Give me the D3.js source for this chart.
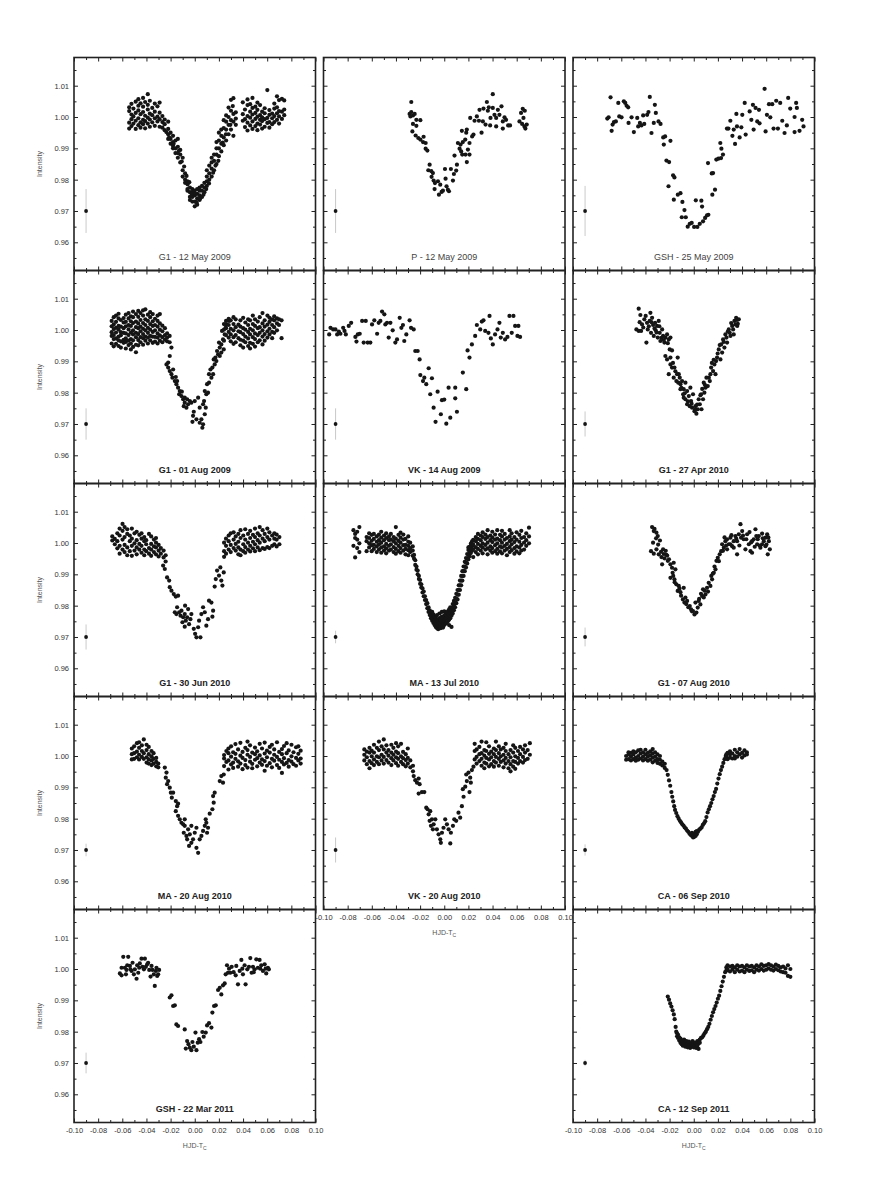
<!DOCTYPE html>
<html>
<head>
<meta charset="utf-8">
<script src="https://cdn.jsdelivr.net/npm/d3@7"></script>
<style>
body { margin:0; background:#fff; }
svg { display:block; font-family:"Liberation Sans", Arial, sans-serif; }
</style>
</head>
<body>
<div id="chart"></div>
<script>
// every row is [HJD-Tc, intensity, intensity, ...] (points read at about that time)
var g1May12_2009 = [
 [-0.0543,0.9963,0.9982,1.0019,1.0031],[-0.0524,0.9971,0.9993,1.0008,1.0042],
 [-0.0508,0.9979,1.0002,1.0027],[-0.0489,0.9962,0.9988,1.0013,1.0049],
 [-0.0467,0.9974,0.9996,1.0021,1.0036,1.0057],[-0.0449,0.9966,0.9983,1.0009,1.0044],
 [-0.0428,0.9977,0.9991,1.0016,1.0033,1.0061],[-0.0411,0.9964,0.9987,1.0004,1.0048],
 [-0.0389,0.9979,0.9998,1.0024,1.0039,1.0073],[-0.0372,0.9969,0.9992,1.0011,1.0052],
 [-0.0352,0.9983,1.0006,1.0029],[-0.0331,0.9972,0.9996,1.0017,1.0043],
 [-0.0309,0.9986,1.0001,1.0034],[-0.0291,0.9969,0.9993,1.0014,1.0046],
 [-0.0268,0.9966,0.9984,1.0003],[-0.0249,0.9958,0.9977,0.9992],
 [-0.022,0.993,0.9945,0.9962,0.9985],[-0.020,0.9915,0.993,0.995],
 [-0.018,0.99,0.992,0.994,0.9908],[-0.016,0.9885,0.99,0.9925],
 [-0.014,0.987,0.9885,0.9905,0.993],[-0.012,0.9855,0.988,0.9895],
 [-0.010,0.983,0.981,0.987],[-0.008,0.979,0.982,0.98],
 [-0.006,0.977,0.9785,0.9795,0.9765],[-0.004,0.9745,0.976,0.9775,0.9735],
 [-0.002,0.973,0.9745,0.976,0.977],[0.000,0.9715,0.973,0.975,0.9765,0.9755],
 [0.002,0.972,0.974,0.9755,0.977],[0.004,0.9735,0.975,0.9765,0.9775],
 [0.006,0.9745,0.9765,0.978],[0.008,0.976,0.9775,0.979],
 [0.010,0.978,0.9795,0.981,0.983],[0.012,0.98,0.982,0.9845],
 [0.014,0.981,0.9835,0.9855,0.987],[0.016,0.983,0.986,0.988],
 [0.018,0.985,0.988,0.99,0.992],[0.020,0.9875,0.99,0.9925,0.995],
 [0.022,0.989,0.9915,0.994,0.996],[0.024,0.991,0.9935,0.9965,0.999],
 [0.026,0.9925,0.996,0.9985,1.0005],[0.028,0.9945,0.9975,1.0,1.003],
 [0.030,0.996,0.999,1.002,1.0055],[0.032,0.994,0.9985,1.001,1.006],
 [0.034,0.9975,0.9995,1.0015],
 [-0.0235,0.9952],[-0.0212,0.9935],[-0.0175,0.9915],[-0.0132,0.9892],[-0.0108,0.9858],
 [-0.0088,0.9842],[-0.0068,0.9812],[-0.0045,0.9792],[-0.0025,0.9755],[0.0015,0.9728],
 [0.0045,0.974],[0.0072,0.9752],[0.0095,0.977],[0.0118,0.9788],[0.0152,0.9822],
 [0.0172,0.9845],[0.0195,0.986],[0.0232,0.9918],[0.0258,0.9945],[0.0295,0.9975],[0.0315,1.0035],
 [0.0398,0.9988,1.0009,1.0047],[0.0416,0.9968,0.9993,1.0024],
 [0.0437,0.9957,0.9982,1.0003,1.0038,1.0056],[0.0459,0.9973,0.9998,1.0017,1.0041],
 [0.0478,0.9962,0.9986,1.0008,1.0029,1.0061],[0.0502,0.9971,0.9994,1.0013,1.0033],
 [0.0519,0.9958,0.9979,1.0001,1.0023,1.0046],[0.0541,0.9976,0.9991,1.0006,1.0038],
 [0.0558,0.9963,0.9987,0.9999,1.0017],[0.0579,0.9969,0.9993,1.0012,1.0028],
 [0.0601,0.9981,0.9997,1.0086],[0.0618,0.9966,0.9984,1.0007,1.0022],
 [0.0641,0.9977,0.9996,1.0011],[0.0659,0.9984,1.0003,1.0027,1.0043],
 [0.0681,0.9991,1.0012,1.0031,1.0066],[0.0698,0.9979,1.0002,1.0019,1.0054],
 [0.0722,0.9994,1.0017,1.0058],[0.0741,1.0006,1.0024,1.0053]
];
var pMay12_2009 = [
 [-0.0273,1.0048],[-0.0287,1.001],[-0.0273,1.0016],[-0.0259,1.0005],[-0.028,1.0002],
 [-0.0245,1.001],[-0.0231,0.9991],[-0.0198,0.999],[-0.0259,0.9978],[-0.0231,0.9972],
 [-0.0264,0.9954],[-0.0237,0.9941],[-0.0215,0.9933],[-0.0198,0.9928],[-0.0171,0.9937],
 [-0.0176,0.992],[-0.0154,0.9917],[-0.0154,0.9899],[-0.014,0.9893],[-0.0121,0.9848],
 [-0.0132,0.983],[-0.0107,0.9827],[-0.0094,0.9821],[-0.0105,0.9809],[-0.0088,0.9797],
 [-0.0077,0.9789],[-0.008,0.977],[-0.0052,0.9795],[-0.0044,0.9752],[-0.0033,0.9784],
 [-0.0022,0.9761],[-0.0011,0.9765],[0.0006,0.9834],[0.0011,0.9803],[0.0019,0.9779],
 [0.003,0.9768],[0.0039,0.9763],[0.0055,0.9834],[0.0072,0.9797],[0.008,0.9818],
 [0.0099,0.9829],[0.0105,0.9848],[0.0085,0.9877],[0.0127,0.9899],[0.0135,0.9912],
 [0.014,0.989],[0.0149,0.988],[0.0154,0.992],[0.0174,0.9928],[0.0187,0.9856],
 [0.0209,0.988],[0.0209,0.9917],[0.0196,0.9896],[0.0146,0.9956],[0.0182,0.995],
 [0.0231,0.9938],[0.0242,0.9944],[0.0215,0.9997],[0.0251,0.9988],[0.027,1.0002],
 [0.0287,0.9988],[0.0309,0.995],[0.0292,1.0023],[0.032,0.9986],[0.0325,1.0027],
 [0.0342,0.9976],[0.0353,1.0048],[0.0361,1.002],[0.0369,1.0031],[0.038,0.9973],
 [0.0402,1.0073],[0.0402,1.0029],[0.0416,1.0007],[0.043,0.9997],[0.0444,1.0023],
 [0.0457,1.0007],[0.0474,1.0034],[0.0485,0.9963],[0.0499,0.9999],[0.0512,0.9991],
 [0.0529,0.9973],[0.0545,0.9973],[0.0485,0.9986],[0.0623,0.9986],[0.0636,1.0013],
 [0.065,1.0026],[0.0667,1.002],[0.0656,0.9997],[0.0645,0.9978],[0.0664,0.997],
 [0.0672,0.9963],[0.0683,0.9976],[0.043,0.997],[0.0383,0.9997],[0.0187,0.996],
 [0.0176,0.988],[0.0113,0.9917]
];
var gshMay25_2009 = [
 [-0.0716,0.9995],[-0.0705,0.9999],[-0.0689,1.0063],[-0.0672,0.9976],[-0.068,0.9956],
 [-0.0661,0.9984],[-0.0645,0.9986],[-0.0625,1.0045],[-0.0617,1.0002],[-0.0598,0.9999],
 [-0.0579,1.005],[-0.0567,1.0045],[-0.0556,1.0036],[-0.0543,1.0031],[-0.054,0.9981],
 [-0.0515,0.9999],[-0.0496,0.9952],[-0.0468,0.9997],[-0.046,0.997],[-0.0446,0.9981],
 [-0.0433,0.9973],[-0.0419,1.0005],[-0.041,0.9978],[-0.0386,1.0007],[-0.0375,1.0016],
 [-0.0364,1.0064],[-0.035,0.9949],[-0.0331,0.9981],[-0.0322,1.0039],[-0.0314,1.0013],
 [-0.0292,0.9986],[-0.0275,0.9978],[-0.0253,0.9935],[-0.0237,0.9938],[-0.0248,0.9912],
 [-0.0193,0.9924],[-0.0226,0.9861],[-0.0204,0.9856],[-0.0171,0.9814],[-0.016,0.9807],
 [-0.0209,0.9779],[-0.0165,0.9736],[-0.0132,0.9752],[-0.011,0.9757],[-0.0094,0.9729],
 [-0.0099,0.968],[-0.0077,0.9703],[-0.0066,0.968],[-0.005,0.965],[-0.0033,0.9659],
 [-0.0017,0.9662],[0.0003,0.9649],[0.0017,0.9734],[0.003,0.9649],[0.005,0.9659],
 [0.0063,0.9733],[0.0069,0.9714],[0.0077,0.9667],[0.0094,0.9678],[0.011,0.9686],
 [0.0121,0.9688],[0.0154,0.9752],[0.0176,0.9768],[0.0149,0.982],[0.016,0.9821],
 [0.0118,0.9853],[0.0187,0.9864],[0.0204,0.9867],[0.0226,0.9869],[0.0242,0.988],
 [0.022,0.9917],[0.0229,0.9899],[0.0275,0.9963],[0.0287,0.9963],[0.0303,0.9988],
 [0.032,0.994],[0.0331,0.996],[0.0342,0.9914],[0.0353,1.001],[0.0358,0.997],
 [0.038,0.9935],[0.0394,0.9967],[0.0402,1.0007],[0.0422,1.0045],[0.043,0.9944],
 [0.0463,1.0018],[0.0477,0.9991],[0.049,1.0039],[0.0496,0.996],[0.0512,1.0029],
 [0.0526,0.9986],[0.054,1.0023],[0.0545,0.998],[0.0587,1.009],[0.0595,0.9954],
 [0.0606,1.0007],[0.0623,1.0041],[0.0634,0.9999],[0.065,1.0041],[0.0661,0.9963],
 [0.0683,1.0052],[0.0697,0.9963],[0.0716,1.0045],[0.0733,0.9988],[0.0752,0.9949],
 [0.0771,0.9973],[0.0782,1.0061],[0.0799,1.0027],[0.0835,1.0],[0.0848,1.0045],
 [0.0835,0.9952],[0.0854,1.0029],[0.0876,0.9956],[0.0898,0.9991],[0.0909,0.997]
];
var g1Aug01_2009 = [
 [-0.0688,0.9957,0.9981,0.9993,1.0012,1.0029],[-0.0671,0.9948,0.9971,0.9984,1.0003,1.0018,1.0041],
 [-0.0652,0.9956,0.9973,0.9992,1.0007,1.0026,1.0046],[-0.0631,0.9949,0.9967,0.9979,1.0001,1.0013,1.0037,1.0052],
 [-0.0612,0.9944,0.9964,0.9983,0.9993,1.0011,1.0032],[-0.0589,0.9959,0.9969,0.9991,1.0006,1.0024,1.0038],
 [-0.0571,0.9941,0.9962,0.9973,0.9989,1.0012,1.0026,1.0049],[-0.0548,0.9952,0.9966,0.9984,1.0002,1.0016,1.0037,1.0054],
 [-0.0529,0.9938,0.9957,0.9971,0.9992,1.0013,1.0028,1.0044],[-0.0511,0.9946,0.9967,0.9986,0.9999,1.0022,1.0041,1.0059],
 [-0.0487,0.9929,0.9953,0.9977,0.9991,1.0009,1.0027,1.0051],[-0.0468,0.9951,0.9968,0.9987,1.0006,1.0021,1.0042,1.0061],
 [-0.0449,0.9961,0.9977,0.9996,1.0011,1.0032,1.0054],[-0.0428,0.9953,0.9974,0.9987,1.0004,1.0022,1.0046,1.0063],
 [-0.0409,0.9966,0.9979,0.9999,1.0016,1.0034,1.0066],[-0.0388,0.9957,0.9976,0.9991,1.0007,1.0029,1.0049],
 [-0.0369,0.9967,0.9981,1.0001,1.0019,1.0041,1.0057],[-0.0348,0.9959,0.9979,0.9994,1.0013,1.0028,1.0051],
 [-0.0329,0.9963,0.9978,0.9999,1.0016,1.0036],[-0.0308,0.9957,0.9976,0.9989,1.0011,1.0029,1.0046],
 [-0.0289,0.9966,0.9983,1.0001,1.0021,1.0051],[-0.0268,0.9961,0.9977,0.9996,1.0014],
 [-0.0247,0.9969,0.9984,1.0006],[-0.0229,0.9976,0.9989,0.9964],[-0.0208,0.9961,0.9981],
 [-0.0193,0.9944],[-0.0207,0.9917],[-0.0234,0.989],[-0.022,0.988],[-0.0207,0.9869],
 [-0.0193,0.9859],[-0.0185,0.9848],[-0.0165,0.9837],[-0.0152,0.9827],[-0.0138,0.9816],
 [-0.0124,0.9805],[-0.0129,0.9795],[-0.011,0.9789],[-0.0096,0.9779],[-0.0083,0.9768],
 [-0.0091,0.9757],[-0.0069,0.9752],[-0.0055,0.9763],[-0.0041,0.9773],[-0.0014,0.9726],
 [-0.0019,0.9707],[-0.0008,0.9739],[0.0014,0.9715],[0.0041,0.9704],[0.0063,0.9688],
 [0.0069,0.9699],[0.0055,0.9715],[0.0083,0.9731],[0.0091,0.9752],[0.0069,0.9763],
 [0.0077,0.9773],[0.0096,0.9795],[0.0083,0.9805],[0.011,0.98],[0.0102,0.9827],
 [0.0118,0.9832],[0.0138,0.9848],[0.0152,0.9859],[0.0146,0.988],[0.0165,0.989],
 [0.0179,0.9901],[0.0171,0.9912],[0.0193,0.9922],[0.0185,0.9933],[0.0207,0.9944],
 [0.022,0.9954],[0.0201,0.996],[0.0234,0.997],[0.0248,0.9986],[0.0226,0.9997],
 [0.0256,1.0007],[0.0262,1.0018],[0.0284,1.0029],
 [-0.022,0.9896],[-0.0179,0.9874],[-0.0157,0.985],[-0.0146,0.9837],[-0.0107,0.9803],
 [-0.0083,0.9784],[-0.0063,0.9779],[-0.0028,0.9768],[0.0,0.9773],[0.0028,0.9784],
 [0.0041,0.9752],[0.0118,0.9859],[0.013,0.9874],[0.0157,0.9906],[0.0207,0.9917],
 [0.022,0.9928],[0.024,0.9938],
 [0.0242,1.0001,1.0019,0.9966],[0.0259,0.9984,1.0006,1.0029],[0.0281,0.9976,0.9994,1.0016,1.0036],
 [0.0298,0.9964,0.9986,1.0004,1.0031],[0.0321,0.9956,0.9977,0.9999,1.0019,1.0041],
 [0.0339,0.9961,0.9984,1.0009,1.0034],[0.0362,0.9974,0.9996,1.0017],
 [0.0378,0.9951,0.9969,0.9993,1.0011,1.0031],[0.0401,0.9944,0.9966,0.9987,1.0006,1.0039],
 [0.0419,0.9961,0.9979,1.0001,1.0024],[0.0442,0.9949,0.9973,0.9994,1.0016,1.0034],
 [0.0458,0.9941,0.9959,0.9986,1.0004,1.0031],[0.0481,0.9956,0.9977,0.9999,1.0019,1.0046],
 [0.0499,0.9947,0.9971,0.9989,1.0013,1.0034],[0.0522,0.9961,0.9984,1.0006,1.0027],
 [0.0538,0.9967,0.9991,1.0009,1.0041],[0.0561,0.9954,0.9979,0.9999,1.0021,1.0054],
 [0.0579,0.9966,0.9987,1.0011,1.0031],[0.0602,0.9976,0.9996,1.0017,1.0046],
 [0.0619,0.9986,1.0004,1.0026,1.0039],[0.0641,0.9974,0.9994,1.0016,1.0034],
 [0.0658,0.9991,1.0009,1.0031,1.0044],[0.0681,0.9999,1.0021,1.0037],
 [0.0698,1.0016,1.0034],[0.0719,0.9974,1.0031]
];
var vkAug14_2009 = [
 [-0.0953,0.9986],[-0.0942,1.0007],[-0.092,1.0002],[-0.0901,1.0002],[-0.0887,0.9986],
 [-0.0873,0.9995],[-0.086,0.9988],[-0.0837,1.0007],[-0.0826,0.9997],[-0.0815,0.9986],
 [-0.0791,1.0013],[-0.0771,1.0023],[-0.0736,0.9978],[-0.0727,0.9963],[-0.0716,0.9986],
 [-0.07,0.9988],[-0.068,1.0029],[-0.0667,0.996],[-0.065,1.0029],[-0.0634,0.996],
 [-0.0612,0.996],[-0.0598,1.0018],[-0.0579,1.0031],[-0.0556,0.9988],[-0.0543,1.0023],
 [-0.0529,1.0029],[-0.0515,1.0059],[-0.0496,1.005],[-0.0488,1.0018],[-0.0474,1.0023],
 [-0.046,0.9976],[-0.0446,1.0023],[-0.0427,0.9999],[-0.0405,0.996],[-0.0391,0.997],
 [-0.0369,1.0039],[-0.0355,1.0007],[-0.0342,1.0016],[-0.0331,0.9965],[-0.0314,0.9986],
 [-0.0287,1.0031],[-0.0275,1.0007],[-0.0253,1.0002],[-0.024,0.9933],[-0.022,0.9933],
 [-0.0204,0.9906],[-0.0198,0.9856],[-0.0165,0.9848],[-0.0176,0.9837],[-0.0129,0.9878],
 [-0.0102,0.9846],[-0.0149,0.9827],[-0.0116,0.9795],[-0.0055,0.9803],[-0.0088,0.9752],
 [-0.0028,0.9731],[-0.0019,0.9776],[0.0,0.9778],[-0.0072,0.9707],[0.0017,0.9701],
 [0.0036,0.9816],[0.005,0.972],[0.0091,0.9816],[0.0091,0.9782],[0.0105,0.9739],
 [0.0154,0.9864],[0.0182,0.9811],[0.0193,0.9935],[0.0209,0.9912],[0.0229,0.9954],
 [0.0256,0.9981],[0.027,1.0016],[0.0298,1.0002],[0.0311,1.0027],[0.0325,1.0031],
 [0.0339,0.9997],[0.0366,0.9991],[0.0375,1.0045],[0.0386,0.9973],[0.0402,0.9954],
 [0.0421,0.9986],[0.0441,1.0002],[0.0457,1.0023],[0.0468,0.9976],[0.0485,0.9991],
 [0.0504,0.997],[0.0523,0.9978],[0.054,1.0045],[0.0559,0.9991],[0.0573,1.0045],
 [0.0587,1.0013],[0.0606,0.9981],[0.0614,1.0013],[0.0628,0.9978]
];
var g1Apr27_2010 = [
 [-0.0456,1.0068],[-0.0442,1.0048],[-0.0475,1.0002],[-0.0456,0.9997],[-0.0436,0.9997],
 [-0.0428,1.0018],[-0.0409,1.0034],[-0.0392,0.996],[-0.0387,1.0023],[-0.0381,1.0002],
 [-0.0365,1.0029],[-0.0359,1.0055],[-0.0354,0.9991],[-0.0345,1.0039],[-0.0337,1.0016],
 [-0.0331,0.9981],[-0.032,1.0023],[-0.0315,0.9999],[-0.0304,1.0013],[-0.0298,0.9976],
 [-0.029,1.0029],[-0.0282,0.9991],[-0.0276,0.9965],[-0.0262,1.0002],[-0.0254,0.9981],
 [-0.0243,0.996],[-0.0235,0.9976],[-0.0221,0.9986],[-0.0207,0.997],[-0.0193,0.9976],
 [-0.0199,0.9938],[-0.018,0.9935],[-0.0235,0.9917],[-0.0221,0.9906],[-0.0193,0.989],
 [-0.0207,0.9859],[-0.018,0.988],[-0.0166,0.9848],[-0.0144,0.9837],[-0.0133,0.9912],
 [-0.0124,0.9859],[-0.011,0.9827],[-0.0116,0.9848],[-0.0097,0.9837],[-0.0083,0.9811],
 [-0.0069,0.9832],[-0.0088,0.9795],[-0.0069,0.9779],[-0.0055,0.9805],[-0.0041,0.9789],
 [-0.0028,0.9816],[-0.0022,0.9773],[-0.0006,0.9795],[-0.0014,0.9752],[0.0006,0.9741],
 [0.0022,0.9733],[0.0033,0.9747],[0.005,0.9763],[0.0064,0.9747],[0.0077,0.9779],
 [0.0088,0.98],[0.0083,0.9832],[0.0105,0.9848],[0.0116,0.9821],[0.0133,0.9837],
 [0.0144,0.988],[0.016,0.9869],[0.0171,0.989],[0.018,0.9859],[0.0193,0.9912],
 [0.0207,0.9938],[0.0221,0.9906],[0.0227,0.9954],[0.0243,0.997],[0.0254,0.9944],
 [0.0262,0.9986],[0.0276,0.996],[0.029,1.0002],[0.0304,0.9981],[0.0318,1.0013],
 [0.0331,0.9986],[0.0337,1.0029],[0.0351,1.0039],[0.0365,1.002],[0.0373,1.0034],
 [-0.0193,0.9912],[-0.016,0.988],[-0.0138,0.9859],[-0.011,0.9811],[-0.0083,0.9784],
 [-0.0055,0.9763],[-0.0033,0.9757],[0.0014,0.9757],[0.0041,0.9779],[0.0061,0.9795],
 [0.0097,0.9816],[0.0138,0.9859],[0.0185,0.9901],[0.0235,0.9928],[0.0271,0.9976],
 [0.0298,0.9991],[0.0326,1.0002],[0.036,1.0013],
 [-0.0448,1.0025],[-0.0418,1.0008],[-0.0398,1.0045],[-0.0372,1.0012],[-0.035,1.0025],
 [-0.0325,1.0005],[-0.0308,0.9992],[-0.0285,1.0012],[-0.0268,0.9975],[-0.0248,0.9968],
 [-0.0215,0.9958],[-0.0172,0.9895],[-0.0152,0.9868],[-0.0128,0.9832],[-0.0102,0.9815],
 [-0.0075,0.9798],[-0.0048,0.9772],[-0.0018,0.9765],[0.001,0.9745],[0.0028,0.9762],
 [0.0055,0.9792],[0.007,0.9812],[0.0092,0.9825],[0.0125,0.9848],[0.015,0.9895],
 [0.0165,0.9905],[0.0198,0.9925],[0.0215,0.9952],[0.0248,0.9962],[0.0282,0.9995],
 [0.031,1.0022],[0.0345,1.0018],[0.0358,1.0032]
];
var g1Jun30_2010 = [
 [-0.0683,1.0008,1.0021],[-0.0662,0.9996,1.0013],[-0.0641,0.9983,1.0006,1.0031],
 [-0.0622,0.9966,0.9991,1.0024,1.0046],[-0.0598,0.9979,1.0011,1.0039,1.0061],
 [-0.0581,0.9971,0.9994,1.0019,1.0051],[-0.0559,0.9961,0.9986,1.0029,1.0044],
 [-0.0538,0.9974,1.0006,1.0024],[-0.0521,0.9959,0.9991,1.0014,1.0046],
 [-0.0499,0.9976,0.9999,1.0031],[-0.0481,0.9964,0.9986,1.0009,1.0036],
 [-0.0459,0.9979,0.9997,1.0026],[-0.0441,0.9969,0.9991,1.0014,1.0031],
 [-0.0418,0.9961,0.9979,1.0006,1.0019],[-0.0402,0.9974,0.9996,1.0009],
 [-0.0379,0.9966,0.9984,1.0029],[-0.0361,0.9959,0.9979,0.9997,1.0021],
 [-0.0338,0.9971,0.9989,1.0011],[-0.0321,0.9964,0.9986,1.0001,1.0016],
 [-0.0299,0.9957,0.9976,0.9994],[-0.0281,0.9966,0.9984],[-0.0258,0.9954,0.9976],
 [-0.0241,0.9941,0.9961],
 [-0.0262,0.9928],[-0.0248,0.9917],[-0.0229,0.989],[-0.0212,0.988],[-0.0207,0.9859],
 [-0.0193,0.9848],[-0.0174,0.9837],[-0.0157,0.9829],[-0.0138,0.9832],[-0.0165,0.9779],
 [-0.0152,0.9773],[-0.0129,0.9779],[-0.011,0.9784],[-0.0118,0.9768],[-0.0096,0.9763],
 [-0.0083,0.9773],[-0.0102,0.9747],[-0.0074,0.9752],[-0.0063,0.9763],[-0.0055,0.9789],
 [-0.0083,0.9733],[-0.0047,0.9741],[-0.0036,0.9757],[-0.0028,0.9773],[-0.0008,0.9726],
 [0.0003,0.971],[0.0014,0.9699],[0.0028,0.9731],[0.0036,0.9752],[0.0047,0.9699],
 [0.0055,0.9773],[0.0069,0.9795],[0.0083,0.9779],[0.0096,0.9736],[0.011,0.9757],
 [0.0118,0.9816],[0.0138,0.981],[0.0152,0.9784],[0.0146,0.9765],[0.0165,0.9861],
 [0.0174,0.9885],[0.0185,0.9912],[0.0201,0.9896],[0.0212,0.9922],[0.022,0.988],
 [0.0229,0.9864],[0.024,0.9906],[-0.008,0.98],[-0.0146,0.9795],
 [0.0243,0.9956,0.9974,1.0001],[0.0259,0.9966,0.9991,1.0014],[0.0281,0.9979,1.0006,1.0024],
 [0.0298,0.9971,0.9994,1.0031],[0.0322,0.9984,1.0011,1.0034],[0.0339,0.9976,0.9997,1.0021],
 [0.0361,0.9964,0.9986,1.0004,1.0029],[0.0379,0.9961,0.9979,1.0016,1.0041],
 [0.0402,0.9974,0.9996,1.0024],[0.0418,0.9969,0.9987,1.0011,1.0044],
 [0.0441,0.9979,1.0001,1.0029],[0.0459,0.9973,0.9991,1.0016,1.0039],
 [0.0482,0.9983,1.0004,1.0026],[0.0499,0.9974,0.9996,1.0019,1.0046],
 [0.0521,0.9986,1.0009,1.0031],[0.0538,0.9977,1.0001,1.0024,1.0051],
 [0.0562,0.9984,1.0014,1.0041],[0.0579,0.9981,1.0006,1.0029],
 [0.0601,0.9987,1.0019,1.0046],[0.0618,0.9984,1.0011,1.0034],
 [0.0641,0.9991,1.0024],[0.0659,0.9996,1.0014,1.0031],
 [0.0678,0.9989,1.0011,1.0027],[0.0701,0.9996,1.0019]
];
var maJul13_2010 = [
 [-0.0752,0.9991,1.0041],[-0.0738,0.9954,1.0016,1.0029],[-0.0721,0.9984,1.0011,1.0036],
 [-0.0703,0.9971,0.9999,1.0051],
 [-0.0643,0.9974,1.0006,1.0019],[-0.0622,0.9986,0.9999,1.0016,1.0031],
 [-0.0601,0.9974,0.9993,1.0007,1.0026],[-0.0583,0.9981,0.9994,1.0013,1.0029],
 [-0.0559,0.9971,0.9989,1.0004,1.0021],[-0.0541,0.9979,0.9996,1.0009,1.0027],
 [-0.0522,0.9969,0.9986,1.0001,1.0017,1.0036],[-0.0499,0.9976,0.9989,1.0009,1.0024],
 [-0.0481,0.9967,0.9983,0.9997,1.0016,1.0031],[-0.0458,0.9976,0.9991,1.0009,1.0021],
 [-0.0442,0.9979,0.9996,1.0011,1.0029],[-0.0419,0.9971,0.9987,1.0006,1.0019],
 [-0.0401,0.9966,0.9981,0.9999,1.0014,1.0051],[-0.0379,0.9974,0.9991,1.0007,1.0026],
 [-0.0362,0.9969,0.9984,1.0001,1.0017,1.0033],[-0.0339,0.9976,0.9993,1.0011,1.0027],
 [-0.0321,0.9964,0.9981,0.9994,1.0013],[-0.0298,0.9961,0.9977,0.9991,1.0004,1.0021],
 [-0.0282,0.9971,0.9984,1.0001],[-0.0261,0.9959,0.9976,0.9989],
 [-0.025,0.995,0.9962],[-0.024,0.993,0.9945],[-0.023,0.9915,0.9925],[-0.022,0.99,0.9912],
 [-0.021,0.9885,0.9895],[-0.020,0.987,0.9882],[-0.019,0.9858,0.9868],[-0.018,0.9842,0.9855],
 [-0.017,0.983,0.9845],[-0.016,0.9818,0.983],[-0.015,0.9805,0.9818],[-0.014,0.9792,0.9808],
 [-0.013,0.978,0.9795],[-0.012,0.977,0.9785],[-0.011,0.976,0.9775],
 [-0.010,0.9752,0.9768,0.978],[-0.009,0.9745,0.976,0.9772],[-0.008,0.9738,0.9752,0.9765],
 [-0.007,0.9732,0.9748,0.9762],[-0.006,0.9728,0.9742,0.9755,0.977],[-0.005,0.9725,0.9738,0.9752],
 [-0.004,0.973,0.9745,0.976,0.9775],[-0.003,0.9728,0.9742,0.9755],[-0.002,0.9735,0.975,0.9765,0.978],
 [-0.001,0.973,0.9745,0.976],[0.000,0.9738,0.9752,0.9768,0.9782],[0.001,0.9742,0.9758,0.9772],
 [0.002,0.9745,0.976,0.9778],[0.003,0.975,0.9765,0.9782],[0.004,0.9738,0.9755,0.9772,0.9788],
 [0.005,0.976,0.9778,0.9795],[0.006,0.9732,0.9768,0.9785],[0.007,0.9775,0.9792,0.9805],
 [0.008,0.9785,0.98,0.9815],[0.009,0.9795,0.981,0.9825],[0.010,0.9808,0.9822,0.9838],
 [0.011,0.982,0.9835,0.985],[0.012,0.9835,0.985,0.9865],[0.013,0.985,0.9865,0.988],
 [0.014,0.9865,0.988,0.9895],[0.015,0.988,0.9895,0.991],[0.016,0.9895,0.991,0.9925],
 [0.017,0.991,0.9925,0.994],[0.018,0.9922,0.9938,0.9952],[0.019,0.9935,0.995,0.9965],
 [0.020,0.9948,0.9962,0.9978,0.9986],[0.021,0.9958,0.9972,0.9988],[0.022,0.9968,0.9982,0.9998],
 [0.023,0.9975,0.999,1.0005],[0.024,0.9955,0.998,0.9995,1.001],
 [0.0261,0.9971,0.9987,1.0006,1.0019],[0.0279,0.9964,0.9981,0.9997,1.0013,1.0029],
 [0.0302,0.9976,0.9991,1.0009,1.0024],[0.0318,0.9967,0.9986,0.9999,1.0019,1.0034],
 [0.0341,0.9979,0.9994,1.0013,1.0027],[0.0359,0.9964,0.9983,1.0001,1.0019,1.0041],
 [0.0382,0.9976,0.9989,1.0009,1.0024],[0.0398,0.9969,0.9984,1.0003,1.0017,1.0036],
 [0.0421,0.9974,0.9993,1.0011,1.0027],[0.0439,0.9966,0.9981,0.9999,1.0014,1.0041],
 [0.0462,0.9973,0.9989,1.0009,1.0026],[0.0478,0.9967,0.9986,1.0001,1.0021,1.0039],
 [0.0501,0.9976,0.9991,1.0011,1.0029],[0.0519,0.9961,0.9981,0.9997,1.0016],
 [0.0542,0.9971,0.9987,1.0006,1.0021,1.0041],[0.0558,0.9977,0.9996,1.0011,1.0031],
 [0.0581,0.9966,0.9984,1.0003,1.0019],[0.0599,0.9973,0.9989,1.0011,1.0034],
 [0.0622,0.9967,0.9986,1.0004,1.0026],[0.0638,0.9976,0.9994,1.0016,1.0039],
 [0.0661,0.9979,1.0001,1.0019],[0.0679,0.9991,1.0009,1.0031],[0.0702,0.9999,1.0021,1.0049]
];
var g1Aug07_2010 = [
 [-0.0345,1.0051],[-0.0331,1.0038],[-0.0309,1.0033],[-0.0298,1.0022],[-0.0337,1.0001],
 [-0.0354,0.9974],[-0.0331,0.9966],[-0.0309,0.998],[-0.029,0.9964],[-0.0271,0.9972],
 [-0.0262,0.9932],[-0.0254,0.998],[-0.0243,0.9951],[-0.0227,0.9962],[-0.0215,0.9943],
 [-0.0193,0.9932],[-0.018,0.9921],[-0.0166,0.9937],[-0.0152,0.9916],[-0.0193,0.9889],
 [-0.016,0.9884],[-0.0144,0.9868],[-0.0124,0.9863],[-0.0133,0.9847],[-0.011,0.9843],
 [-0.0083,0.9857],[-0.0069,0.9826],[-0.0077,0.981],[-0.0055,0.9815],[-0.0033,0.9799],
 [-0.0022,0.9788],[-0.0006,0.9783],[0.0006,0.9772],[0.0022,0.9778],[0.0033,0.9794],
 [0.0014,0.981],[0.0041,0.9815],[0.0055,0.9804],[0.0069,0.9831],[0.0083,0.9826],
 [0.0097,0.9836],[0.0077,0.9852],[0.011,0.9857],[0.0124,0.9873],[0.0138,0.9863],
 [0.0152,0.9884],[0.0166,0.9905],[0.018,0.9916],[0.0188,0.9943],[0.0199,0.9953],
 [0.0215,0.9964],[0.0227,0.9974],[0.0235,0.9996],[0.0249,0.9985],[0.0262,1.0006],
 [0.0276,0.998],[0.029,0.9996],[0.0304,1.0017],[0.0318,0.999],[0.0331,1.0006],
 [0.0345,1.0022],[0.0359,0.9964],[0.0373,1.0028],[0.0387,1.006],[0.0401,1.0038],
 [0.0414,1.0012],[0.0428,0.998],[0.0442,1.0028],[0.0456,0.9996],[0.047,0.9974],
 [0.0483,0.9969],[0.0497,1.0012],[0.0511,1.0044],[0.0525,0.9996],[0.0539,1.0022],
 [0.0552,0.9985],[0.0566,1.003],[0.058,1.0006],[0.0594,0.999],[0.0608,1.0028],
 [0.0622,1.0006],[0.063,0.998],[0.0613,0.9964],
 [0.0276,1.0012],[0.0304,0.9996],[0.0331,0.9985],[0.0359,1.0006],[0.0392,1.0017],
 [0.0483,1.0006],[0.053,1.0012],[0.0566,0.9996],[0.0594,1.0017],
 [-0.0325,1.0045],[-0.0312,1.0015],[-0.0295,0.9995],[-0.028,1.0008],[-0.0268,0.9955],
 [-0.0248,0.9965],[-0.0232,0.9975],[-0.022,0.996],[-0.0205,0.9948],[-0.0175,0.9905],
 [-0.017,0.9895],[-0.0158,0.9875],[-0.0118,0.9855],[-0.0105,0.9832],[-0.009,0.982],
 [-0.0062,0.9805],[-0.0045,0.9795],[-0.0015,0.9782],[0.0045,0.9822],[0.006,0.9838],
 [0.009,0.9848],[0.0118,0.9845],[0.0145,0.9895],[0.0158,0.9902],[0.0172,0.9925],
 [0.0208,0.9942],[0.0242,0.9975],[0.0255,1.0018],[0.0268,0.9992],[0.0312,1.0025],
 [0.0352,1.0014],[0.0378,0.9992],[0.0408,1.0024],[0.0435,1.0012],[0.0462,1.0035],
 [0.0475,1.0002],[0.0505,0.9988],[0.0518,1.0022],[0.0545,0.9992],[0.0572,1.0015],
 [0.0602,0.9995],[0.0618,1.0018]
];
var maAug20_2010 = [
 [-0.0521,0.9989,1.0006,1.0024],[-0.0502,0.9991,1.0009,1.0031],[-0.0479,0.9996,1.0014,1.0041],
 [-0.0461,0.9989,1.0004,1.0026,1.0044],[-0.0438,0.9997,1.0016,1.0034],[-0.0422,0.9991,1.0009,1.0053],
 [-0.0399,0.9979,0.9996,1.0019,1.0036],[-0.0381,0.9976,0.9989,1.0006,1.0029],
 [-0.0358,0.9971,0.9986,0.9999,1.0016],[-0.0341,0.9976,0.9991,1.0009],
 [-0.0319,0.9967,0.9981,0.9994],[-0.0302,0.9964,0.9976],
 [-0.0248,0.9963],[-0.0234,0.9947],[-0.024,0.9931],[-0.022,0.992],[-0.0229,0.991],
 [-0.0207,0.9899],[-0.0198,0.9883],[-0.0179,0.9883],[-0.019,0.9867],[-0.0157,0.9856],
 [-0.0146,0.984],[-0.0138,0.9848],[-0.0157,0.9824],[-0.0138,0.9809],[-0.0124,0.9798],
 [-0.011,0.9787],[-0.0096,0.9782],[-0.0083,0.9777],[-0.0091,0.9755],[-0.0069,0.9745],
 [-0.0055,0.9766],[-0.0041,0.975],[-0.0063,0.9734],[-0.0047,0.9713],[-0.0028,0.9723],
 [-0.0014,0.9734],[0.0,0.9755],[0.0014,0.9771],[0.0028,0.9691],[0.0014,0.9707],
 [0.0041,0.9734],[0.0055,0.9745],[0.0069,0.9761],[0.0083,0.9777],[0.0096,0.9787],
 [0.0091,0.9798],[0.0102,0.9755],[0.011,0.9771],[-0.0083,0.9798],[-0.0028,0.9777],
 [0.0124,0.9816],[0.0146,0.983],[0.0157,0.9851],[0.0152,0.9872],[0.0165,0.9883],
 [0.0207,0.992],[0.022,0.9936],[0.0234,0.9915],[0.024,0.9941],
 [0.0243,0.9968,0.9992,1.0003],[0.0262,0.9981,1.0016],[0.0279,0.9957,0.9986,1.0009,1.0024],
 [0.0301,0.9973,0.9998,1.0031],[0.0318,0.9962,0.9979,1.0012],[0.0337,0.9991,1.0007,1.0038],
 [0.0359,0.9966,0.9983,1.0021],[0.0378,0.9976,1.0001,1.0042],[0.0396,0.9958,0.9994,1.0013],
 [0.0419,0.9971,0.9987,1.0026],[0.0437,0.9963,1.0004,1.0019,1.0046],[0.0458,0.9982,0.9997,1.0034],
 [0.0476,0.9961,0.9975,1.0011],[0.0499,0.9988,1.0006,1.0027],[0.0517,0.9967,0.9993,1.0015],
 [0.0538,0.9979,1.0002,1.0039],[0.0557,0.9972,0.9989,1.0024],[0.0579,0.9953,0.9984,1.0008,1.0043],
 [0.0598,0.9969,0.9996,1.0017],[0.0621,0.9977,1.0011,1.0029],[0.0639,0.9964,0.9991,1.0036],
 [0.0658,0.9985,1.0004,1.0021],[0.0681,0.9971,0.9997,1.0044],[0.0699,0.9962,0.9988,1.0013],
 [0.0722,0.9946,0.9981,1.0006,1.0022],[0.0739,0.9973,0.9993,1.0032],[0.0761,0.9978,1.0009,1.0041],
 [0.0778,0.9966,0.9987,1.0018],[0.0801,0.9982,0.9999,1.0036],[0.0818,0.9974,1.0012],
 [0.0839,0.9969,0.9994,1.0028],[0.0858,0.9986,1.0007,1.0031],[0.0877,0.9976,0.9992,1.0017]
];
var vkAug20_2010 = [
 [-0.0662,0.9986,1.0004,1.0021],[-0.0641,0.9974,0.9996,1.0014],[-0.0619,0.9961,0.9984,1.0011,1.0026],
 [-0.0601,0.9977,0.9999,1.0017],[-0.0582,0.9971,0.9989,1.0011,1.0036],[-0.0558,0.9981,0.9999,1.0026],
 [-0.0541,0.9974,0.9996,1.0019,1.0046],[-0.0519,0.9986,1.0004,1.0031],[-0.0501,0.9976,0.9997,1.0021,1.0053],
 [-0.0479,0.9987,1.0011,1.0034],[-0.0462,0.9979,1.0001,1.0019],[-0.0438,0.9971,0.9993,1.0011,1.0036],
 [-0.0421,0.9986,1.0004,1.0026],[-0.0399,0.9977,0.9996,1.0014,1.0041],[-0.0382,0.9969,0.9991,1.0009,1.0031],
 [-0.0358,0.9981,0.9999,1.0039],[-0.0341,0.9974,0.9993,1.0013],[-0.0319,0.9967,0.9987,1.0006],
 [-0.0302,0.9976,0.9994,1.0024],[-0.0281,0.9964,0.9986],[-0.0259,0.9951,0.9969],
 [-0.0253,0.9936],[-0.024,0.9923],[-0.0226,0.9915],[-0.0212,0.9928],[-0.0204,0.991],
 [-0.0185,0.9885],[-0.0212,0.988],[-0.0165,0.9885],[-0.0149,0.9835],[-0.0138,0.983],
 [-0.0129,0.9814],[-0.0116,0.9824],[-0.0121,0.9793],[-0.0102,0.9798],[-0.011,0.9777],
 [-0.0088,0.9782],[-0.0074,0.9798],[-0.0094,0.9766],[-0.0061,0.9766],[-0.0047,0.975],
 [-0.0033,0.9734],[-0.0028,0.9723],[-0.0019,0.9755],[-0.0006,0.9771],[0.0008,0.9798],
 [0.0022,0.9782],[0.0036,0.9766],[0.005,0.9721],[0.0055,0.9755],[0.0072,0.9777],
 [0.0083,0.9798],[0.0099,0.9793],[0.0118,0.9819],[0.0132,0.9803],[0.0146,0.984],
 [0.016,0.987],[0.0154,0.9894],[0.0174,0.9902],[0.0187,0.992],[0.0182,0.9941],
 [0.0201,0.9947],[0.0215,0.9931],[0.0229,0.9955],[0.0242,0.9966],[0.022,0.9915],[0.0209,0.9885],
 [0.0252,0.9989,1.0016,1.0039],[0.0268,0.9976,0.9997,1.0021],[0.0291,0.9984,1.0006,1.0029],
 [0.0309,0.9969,0.9991,1.0009,1.0046],[0.0332,0.9961,0.9979,1.0001,1.0019],[0.0348,0.9976,0.9994,1.0016,1.0044],
 [0.0371,0.9967,0.9989,1.0007,1.0031],[0.0389,0.9974,0.9996,1.0014],[0.0411,0.9966,0.9984,1.0006,1.0024],
 [0.0428,0.9979,0.9997,1.0019,1.0046],[0.0452,0.9969,0.9991,1.0009,1.0031],[0.0468,0.9981,0.9999,1.0021],
 [0.0491,0.9964,0.9986,1.0004,1.0026],[0.0509,0.9976,0.9994,1.0016,1.0039],[0.0532,0.9961,0.9984,1.0006],
 [0.0549,0.9951,0.9974,0.9996,1.0019],[0.0571,0.9966,0.9984,1.0011,1.0034],[0.0588,0.9959,0.9981,0.9999,1.0026],
 [0.0611,0.9976,0.9994,1.0016],[0.0628,0.9984,1.0006,1.0029],[0.0652,0.9979,0.9997,1.0021],
 [0.0669,0.9987,1.0011,1.0034],[0.0691,0.9991,1.0019],[0.0709,1.0004,1.0041]
];
var caSep06_2010 = [
 [-0.056,0.9988,1.0],[-0.054,0.999,1.0005,1.0012],[-0.052,0.9986,0.9998,1.001],
 [-0.050,0.999,1.0005,1.0015],[-0.048,0.9985,0.9995,1.0012],[-0.046,0.9988,1.0,1.0018],
 [-0.044,0.9992,1.0008,1.002],[-0.042,0.9986,0.9998,1.0012],[-0.040,0.999,1.0005,1.002],
 [-0.038,0.9985,0.9998,1.001],[-0.036,0.9988,1.0002,1.0015],[-0.034,0.998,0.9995,1.0008,1.0022],
 [-0.032,0.9985,0.9998,1.0012],[-0.030,0.9978,0.999,1.0005],[-0.028,0.9975,0.9988,1.0],
 [-0.026,0.997,0.9982],[-0.024,0.9962,0.9975],
 [-0.0225,0.9955],[-0.0215,0.994],[-0.0205,0.9922],[-0.0195,0.9905],[-0.0185,0.9885],
 [-0.0178,0.987],[-0.017,0.9855],[-0.0162,0.984],[-0.0155,0.9828],[-0.0145,0.9818],
 [-0.0135,0.9808],[-0.0125,0.98],[-0.0115,0.9793],[-0.0105,0.9788],[-0.0095,0.9782],
 [-0.0085,0.9778],[-0.0075,0.9772],[-0.0065,0.9768],[-0.0055,0.9762],[-0.0045,0.9758],
 [-0.0035,0.9752],[-0.0025,0.9748],[-0.0015,0.9745,0.9755],[-0.0005,0.974,0.975],
 [0.0005,0.9742,0.9752],[0.0015,0.9745,0.9758],[0.0025,0.975,0.976],[0.0035,0.9758],
 [0.0045,0.9765],[0.0055,0.9768],[0.0065,0.9772],[0.0075,0.978],[0.0085,0.9785],
 [0.0095,0.9792],[0.0105,0.9805],[0.0115,0.982],[0.0125,0.983],[0.0135,0.984],
 [0.0145,0.985],[0.0155,0.9862],[0.0165,0.9872],[0.0175,0.9885],[0.0185,0.9895],
 [0.0195,0.9912],[0.0205,0.9928],[0.0215,0.9942],[0.0225,0.9955],[0.0235,0.9966],
 [0.0245,0.9978],[0.0255,0.999],[0.0265,1.0],
 [0.027,1.0005,0.9995],[0.028,1.001,0.999],[0.030,1.0015,0.9995,1.0005],[0.032,1.0008,0.9992],
 [0.034,1.002,1.0,0.9992],[0.036,1.0012,0.9998],[0.038,1.0022,1.0005],[0.040,1.001,0.9995],
 [0.042,1.0018,1.0002],[0.044,1.0012,1.0005]
];
var gshMar22_2011 = [
 [-0.062,0.9986],[-0.0606,0.998],[-0.0592,1.0039],[-0.0579,1.0004],[-0.0565,0.9997],
 [-0.0551,1.0039],[-0.0559,1.0012],[-0.0537,1.001],[-0.0523,0.9994],[-0.0515,1.002],
 [-0.0504,0.9983],[-0.0496,0.9999],[-0.0482,0.9969],[-0.0477,1.0012],[-0.046,1.0004],
 [-0.0455,1.0018],[-0.0441,1.0033],[-0.0432,1.0007],[-0.0421,0.9999],[-0.0413,1.0033],
 [-0.0405,1.0007],[-0.0394,1.0015],[-0.0377,0.9997],[-0.0366,0.9976],[-0.035,0.9997],
 [-0.0339,0.9983],[-0.0331,0.9946],[-0.0322,0.9994],[-0.0311,0.9978],[-0.0295,0.9997],
 [-0.0207,0.9909],[-0.0193,0.9916],[-0.0179,0.9882],[-0.0165,0.9884],[-0.0152,0.9823],
 [-0.0138,0.9818],[-0.0083,0.9807],[-0.0074,0.9746],[-0.0063,0.977],[-0.0052,0.976],
 [-0.0041,0.9749],[-0.0028,0.9741],[-0.0019,0.9767],[-0.0008,0.9752],[0.0006,0.9797],
 [0.0014,0.9741],[0.0025,0.9765],[0.0036,0.9776],[0.0047,0.9767],[0.0063,0.9799],
 [0.0074,0.9784],[0.0091,0.9797],[0.0102,0.982],[0.0118,0.9827],[0.0138,0.9813],
 [0.0146,0.9861],[0.016,0.9882],[0.0174,0.9884],[0.0193,0.9933],[0.0207,0.994],
 [0.022,0.9919],[0.0234,0.9948],[0.0248,0.9954],[0.0256,0.9983],[0.0267,1.0012],
 [0.0284,1.0001],[0.0295,0.9988],[0.0306,1.0007],[0.0322,0.999],[0.0339,0.998],
 [0.0358,0.9951],[0.0372,0.9994],[0.0386,1.0029],[0.0399,0.9983],[0.0413,1.0012],
 [0.0421,0.9951],[0.0435,0.9999],[0.0449,1.0007],[0.046,1.0035],[0.0471,0.9988],
 [0.0482,1.0007],[0.0496,0.9999],[0.051,1.0031],[0.0523,1.0004],[0.0537,1.0029],
 [0.0551,1.0012],[0.0565,0.9994],[0.0579,1.0015],[0.0592,0.9986],[0.0606,1.0004],
 [0.0614,0.9999],
 [-0.0606,1.0004],[-0.057,0.9983],[-0.0532,0.9999],[-0.0468,0.9988],[-0.0386,1.002],
 [-0.0358,1.001],[-0.0317,1.0004],[-0.0303,0.9983],[0.0275,0.9988],[0.0344,1.001],
 [0.0394,1.0001],[0.0488,0.999],[0.0543,1.0001],[0.0587,1.0001]
];
var caSep12_2011 = [
 [-0.0215,0.9912],[-0.0205,0.9902],[-0.0195,0.989],[-0.0185,0.988],[-0.0175,0.9868],
 [-0.0165,0.9855],[-0.0158,0.984],[-0.015,0.9815],[-0.0145,0.98],[-0.0138,0.9795,0.9785],
 [-0.013,0.979,0.978],[-0.012,0.9782,0.9772],[-0.011,0.9778,0.9765],[-0.010,0.9772,0.976],
 [-0.009,0.9768,0.9755],[-0.008,0.9775,0.976],[-0.007,0.9765,0.9752],[-0.006,0.977,0.9758],
 [-0.005,0.976,0.975],[-0.004,0.9768,0.9755],[-0.003,0.9758,0.9748],[-0.002,0.9762,0.9752],
 [-0.001,0.977,0.9755],[0.000,0.976,0.975],[0.001,0.9765,0.9752],[0.002,0.9758,0.9748],
 [0.003,0.977,0.9755],[0.004,0.9762,0.9745],[0.005,0.9775,0.9765],[0.006,0.978],
 [0.007,0.9782],[0.008,0.9788],[0.009,0.9795],[0.010,0.98],[0.011,0.9808],[0.012,0.9815],
 [0.013,0.9825],[0.014,0.9838],[0.015,0.985],[0.016,0.9862],[0.017,0.9872],[0.018,0.9882],
 [0.019,0.9893],[0.020,0.9905],[0.021,0.9915],[0.022,0.993],[0.023,0.9945],[0.024,0.996],
 [0.025,0.9975],[0.026,0.999],
 [0.027,1.0005,0.9995],[0.028,1.0012,0.9998],[0.030,1.0008,0.9992],[0.032,1.001,0.9998],
 [0.034,1.0005,0.999],[0.036,1.0012,0.9998],[0.038,1.0008,0.9992],[0.040,1.001,0.9995],
 [0.042,1.0005,0.999],[0.044,1.0012,0.9998],[0.046,1.0008,0.9994],[0.048,1.001,0.9996],
 [0.050,1.0005,0.999],[0.052,1.0012,0.9998],[0.054,1.0008,0.9995],[0.056,1.0015,1.0],
 [0.058,1.001,0.9995],[0.060,1.0012,0.9998],[0.062,1.0016,1.0002],[0.064,1.0012,0.9998],
 [0.066,1.0008,0.9995],[0.068,1.0014,1.0],[0.070,1.001,0.9996],[0.072,1.0005,0.9992],
 [0.074,1.0008,0.999],[0.076,1.0002,0.9988],[0.078,1.0012,0.9978],[0.080,1.0,0.9975]
];

var titles = ["G1 - 12 May 2009","P - 12 May 2009","GSH - 25 May 2009",
  "G1 - 01 Aug 2009","VK - 14 Aug 2009","G1 - 27 Apr 2010",
  "G1 - 30 Jun 2010","MA - 13 Jul 2010","G1 - 07 Aug 2010",
  "MA - 20 Aug 2010","VK - 20 Aug 2010","CA - 06 Sep 2010",
  "GSH - 22 Mar 2011","CA - 12 Sep 2011"];
// typical error bar (half length), drawn at x=-0.09, y=0.97
var errHalf = [0.007,0.007,0.008,0.005,0.005,0.004,0.004,0.002,0.003,0.002,0.004,0.0018,0.0033,0.001];
var xMajor = [-0.10,-0.08,-0.06,-0.04,-0.02,0.00,0.02,0.04,0.06,0.08,0.10];
var xMinor = [-0.09,-0.07,-0.05,-0.03,-0.01,0.01,0.03,0.05,0.07,0.09];
var yMajor = [0.96,0.97,0.98,0.99,1.00,1.01];
var yMinor = [0.955,0.965,0.975,0.985,0.995,1.005,1.015];

var W = 872, H = 1192;
var colX = [74, 323.5, 573], rowY = [57.5, 270.5, 483.5, 696.5, 909.5];
var pw = 241.5, ph = 213;
var font = "'Liberation Sans', Arial, sans-serif";

var panels = [
  {d:g1May12_2009, i:0, r:0, c:0}, {d:pMay12_2009, i:1, r:0, c:1}, {d:gshMay25_2009, i:2, r:0, c:2},
  {d:g1Aug01_2009, i:3, r:1, c:0}, {d:vkAug14_2009, i:4, r:1, c:1}, {d:g1Apr27_2010, i:5, r:1, c:2},
  {d:g1Jun30_2010, i:6, r:2, c:0}, {d:maJul13_2010, i:7, r:2, c:1}, {d:g1Aug07_2010, i:8, r:2, c:2},
  {d:maAug20_2010, i:9, r:3, c:0}, {d:vkAug20_2010, i:10, r:3, c:1, xlab:true}, {d:caSep06_2010, i:11, r:3, c:2},
  {d:gshMar22_2011, i:12, r:4, c:0, xlab:true}, {d:caSep12_2011, i:13, r:4, c:2, xlab:true}
];

var svg = d3.select("#chart").append("svg").attr("width", W).attr("height", H);
svg.append("rect").attr("width", W).attr("height", H).attr("fill", "#fff");

var x = d3.scaleLinear().domain([-0.1, 0.1]).range([0, pw]);
var y = d3.scaleLinear().domain([0.951, 1.019]).range([ph, 0]);

function addTicks(g, axisFn, vals, size, tr, labels) {
  var scale = (axisFn === d3.axisBottom || axisFn === d3.axisTop) ? x : y;
  var a = axisFn(scale).tickValues(vals).tickSize(-size).tickPadding(labels ? 5 : 3);
  a.tickFormat(labels ? function(d) { return d.toFixed(2); } : "");
  var ag = g.append("g").attr("transform", tr).call(a);
  ag.select(".domain").remove();
  ag.selectAll("line").attr("stroke", "#222").attr("stroke-width", 1);
  ag.selectAll("text").attr("font-size", 7.5).attr("fill", "#333").attr("font-family", font);
}

panels.forEach(function(p) {
  var g = svg.append("g").attr("transform", "translate(" + colX[p.c] + "," + rowY[p.r] + ")");

  addTicks(g, d3.axisBottom, xMajor, 4, "translate(0," + ph + ")", !!p.xlab);
  addTicks(g, d3.axisBottom, xMinor, 2.5, "translate(0," + ph + ")", false);
  addTicks(g, d3.axisTop, xMajor, 4, "translate(0,0)", false);
  addTicks(g, d3.axisTop, xMinor, 2.5, "translate(0,0)", false);
  addTicks(g, d3.axisLeft, yMajor, 4, "translate(0,0)", p.c === 0);
  addTicks(g, d3.axisLeft, yMinor, 2.5, "translate(0,0)", false);
  addTicks(g, d3.axisRight, yMajor, 4, "translate(" + pw + ",0)", false);
  addTicks(g, d3.axisRight, yMinor, 2.5, "translate(" + pw + ",0)", false);

  var pts = [];
  p.d.forEach(function(row) {
    for (var k = 1; k < row.length; k++) pts.push([row[0], row[k]]);
  });
  g.append("g").selectAll("circle").data(pts).enter().append("circle")
    .attr("cx", function(d) { return x(d[0]); })
    .attr("cy", function(d) { return y(d[1]); })
    .attr("r", 2.1)
    .attr("fill", "#151515");

  // error bar
  var e = errHalf[p.i];
  g.append("line")
    .attr("x1", x(-0.09)).attr("x2", x(-0.09))
    .attr("y1", y(0.97 - e)).attr("y2", y(0.97 + e))
    .attr("stroke", "#bbb").attr("stroke-width", 0.8);
  g.append("circle").attr("cx", x(-0.09)).attr("cy", y(0.97)).attr("r", 1.9).attr("fill", "#151515");

  g.append("text")
    .attr("x", pw / 2).attr("y", ph - 10.5)
    .attr("text-anchor", "middle")
    .attr("font-family", font).attr("font-size", 9)
    .attr("font-weight", p.r === 0 ? "normal" : "bold")
    .attr("fill", p.r === 0 ? "#444" : "#222")
    .text(titles[p.i]);

  g.append("rect").attr("width", pw).attr("height", ph)
    .attr("fill", "none").attr("stroke", "#222").attr("stroke-width", 1.6);

  if (p.c === 0) {
    g.append("text")
      .attr("transform", "translate(-32," + (ph / 2) + ") rotate(-90)")
      .attr("text-anchor", "middle")
      .attr("font-family", font).attr("font-size", 7).attr("fill", "#555")
      .text("Intensity");
  }
  if (p.xlab) {
    var t = g.append("text")
      .attr("x", pw / 2).attr("y", ph + 25)
      .attr("text-anchor", "middle")
      .attr("font-family", font).attr("font-size", 7).attr("fill", "#555");
    t.append("tspan").text("HJD-T");
    t.append("tspan").attr("dy", 2).attr("font-size", 5).text("C");
  }
});
</script>
</body>
</html>
